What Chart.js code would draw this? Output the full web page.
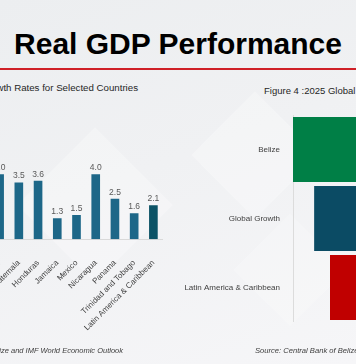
<!DOCTYPE html>
<html>
<head>
<meta charset="utf-8">
<script src="https://cdn.jsdelivr.net/npm/chart.js@4.4.1/dist/chart.umd.min.js"></script>
<style>
  html, body { margin:0; padding:0; }
  body { width:356px; height:364px; overflow:hidden; position:relative;
         background: linear-gradient(160deg, #eceef0 0%, #f0f1f3 45%, #f6f6f8 100%);
         font-family: "Liberation Sans", Arial, sans-serif; }
  .dia { position:absolute; background: rgba(255,255,255,0.28); transform: rotate(45deg); }
  .t { position:absolute; white-space:nowrap; }
  canvas { position:absolute; }
</style>
</head>
<body>
<div class="dia" style="left:40px;top:150px;width:110px;height:110px;"></div>
<div class="dia" style="left:210px;top:110px;width:90px;height:90px;"></div>
<div class="dia" style="left:250px;top:230px;width:80px;height:80px;background:rgba(255,255,255,0.2)"></div>

<div class="t" id="mainTitle" style="left:0;width:356px;top:27px;text-align:center;font-weight:bold;font-size:30px;line-height:34px;color:#000;">Real GDP Performance</div>
<div style="position:absolute;left:0;top:68px;width:356px;height:2px;background:#cf2027;"></div>

<div class="t" style="right:218px;top:82px;font-size:9.7px;line-height:12px;color:#262626;">Figure 3: Real GDP Growth Rates for Selected Countries</div>
<div class="t" style="left:264px;top:85px;font-size:9.5px;line-height:12px;color:#262626;">Figure 4 :2025 Global Growth Projections</div>

<canvas id="left" width="173" height="195" style="left:-10px;top:158px;width:173px;height:195px;"></canvas>
<canvas id="right" width="261" height="207" style="left:180px;top:115px;width:261px;height:207px;"></canvas>

<div class="t" style="right:233px;top:345px;font-size:7.5px;line-height:11px;font-style:italic;color:#404040;">Source: Central Bank of Belize and IMF World Economic Outlook</div>
<div class="t" style="left:255px;top:345px;font-size:7.6px;line-height:11px;font-style:italic;color:#404040;">Source: Central Bank of Belize and IMF World Economic Outlook</div>

<script>
// ---- Left chart data (Real GDP growth, selected countries) ----
const countries = ["El Salvador", "Guatemala", "Honduras", "Jamaica", "Mexico", "Nicaragua", "Panama", "Trinidad and Tobago", "Latin America & Caribbean"];
const growthRates = [4.0, 3.5, 3.6, 1.3, 1.5, 4.0, 2.5, 1.6, 2.1];
const barColors = ["#1d6788", "#1d6788", "#1d6788", "#1d6788", "#1d6788", "#1d6788", "#1d6788", "#1d6788", "#0c5366"];

// ---- Right chart data (2025 global growth comparison, funnel) ----
const regions = ["Belize", "Global Growth", "Latin America & Caribbean"];
const regionGrowth = [4.2, 3.0, 2.1];
const regionColors = ["#007f46", "#0b4b64", "#c00000"];

const valueLabels = {
  id: 'valueLabels',
  afterDatasetsDraw(chart) {
    const ctx = chart.ctx;
    const meta = chart.getDatasetMeta(0);
    ctx.save();
    ctx.font = '8.5px "Liberation Sans", Arial, sans-serif';
    ctx.fillStyle = '#595959';
    ctx.textAlign = 'center';
    ctx.textBaseline = 'bottom';
    meta.data.forEach((bar, i) => {
      ctx.fillText(growthRates[i].toFixed(1), bar.x, bar.y - 2);
    });
    ctx.restore();
  }
};

function noPad(s) { s.paddingLeft = 0; s.paddingRight = 0; s.paddingTop = 0; s.paddingBottom = 0; }

new Chart(document.getElementById('left'), {
  type: 'bar',
  data: {
    labels: countries,
    datasets: [{ data: growthRates, backgroundColor: barColors, borderWidth: 0,
                 barPercentage: 0.45, categoryPercentage: 1.0 }]
  },
  options: {
    responsive: false, animation: false, devicePixelRatio: 1,
    layout: { padding: 0, autoPadding: false },
    plugins: { legend: { display: false }, tooltip: { enabled: false } },
    scales: {
      y: { display: false, min: 0, max: 5 },
      x: {
        grid: { display: false },
        border: { display: true, color: '#d9d9d9' },
        ticks: { autoSkip: false, maxRotation: 45, minRotation: 45, padding: 11,
                 color: '#404040', font: { size: 8, family: '"Liberation Sans", Arial, sans-serif' } },
        afterFit: (s) => { s.height = 113.75; noPad(s); }
      }
    }
  },
  plugins: [valueLabels]
});

new Chart(document.getElementById('right'), {
  type: 'bar',
  data: {
    labels: regions,
    datasets: [{ data: regionGrowth.map(v => [-v / 2, v / 2]), backgroundColor: regionColors,
                 borderWidth: 0, barPercentage: 0.94, categoryPercentage: 1.0 }]
  },
  options: {
    indexAxis: 'y',
    responsive: false, animation: false, devicePixelRatio: 1,
    layout: { padding: 0, autoPadding: false },
    plugins: { legend: { display: false }, tooltip: { enabled: false } },
    scales: {
      x: { display: false, min: -2.1, max: 2.1 },
      y: {
        grid: { display: false },
        border: { display: true, color: '#dcdcdc' },
        ticks: { padding: 5, color: '#404040', font: { size: 8, family: '"Liberation Sans", Arial, sans-serif' } },
        afterFit: (s) => { s.width = 113; noPad(s); }
      }
    }
  }
});
</script>
</body>
</html>
